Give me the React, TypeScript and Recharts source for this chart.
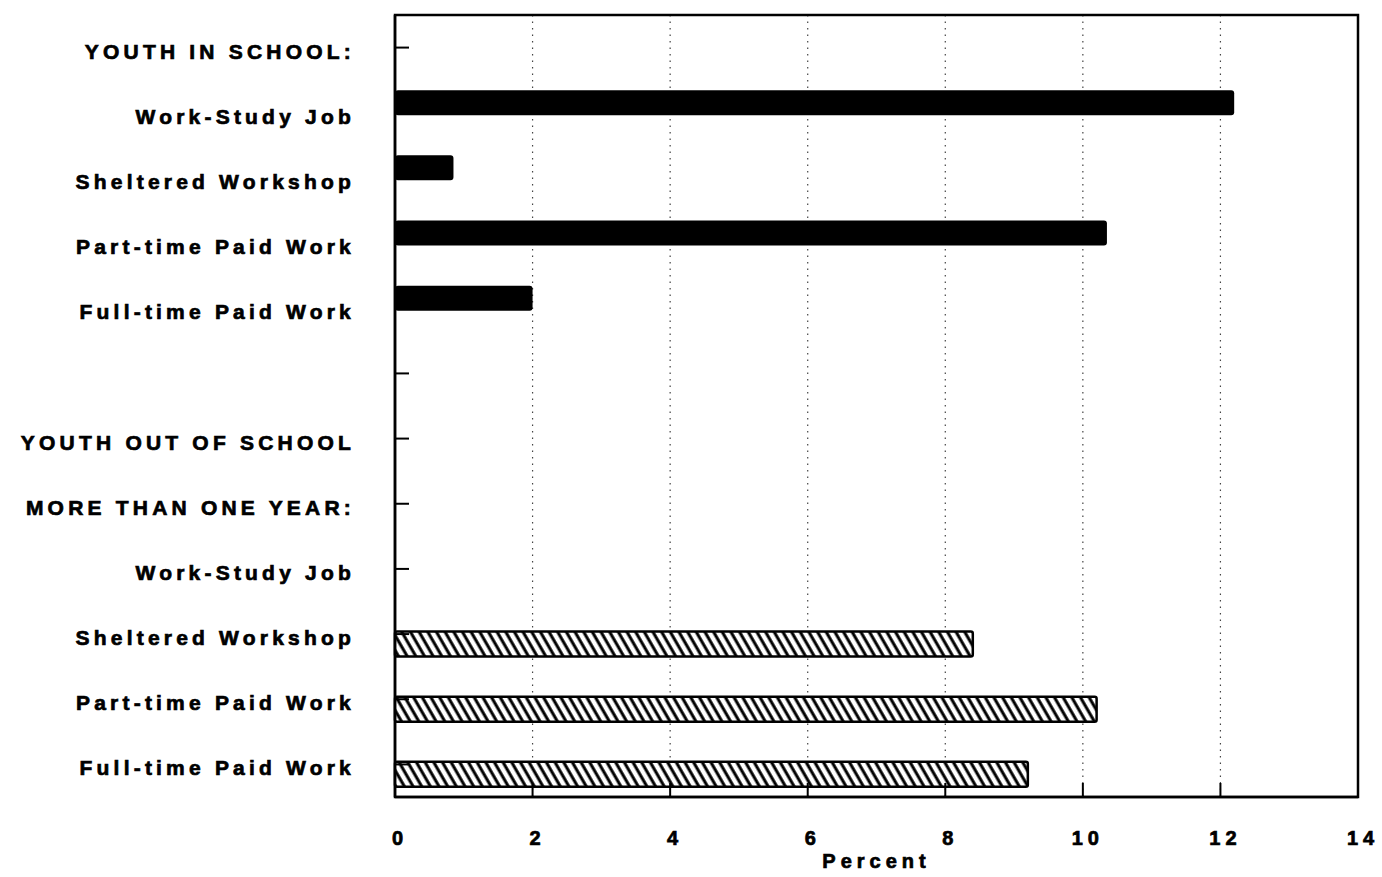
import React from "react";
import {
  BarChart,
  Bar,
  XAxis,
  YAxis,
  CartesianGrid,
  ReferenceArea,
} from "recharts";

const categories = [
  "YOUTH IN SCHOOL:",
  "Work-Study Job",
  "Sheltered Workshop",
  "Part-time Paid Work",
  "Full-time Paid Work",
  "",
  "YOUTH OUT OF SCHOOL",
  "MORE THAN ONE YEAR:",
  "Work-Study Job",
  "Sheltered Workshop",
  "Part-time Paid Work",
  "Full-time Paid Work",
];

const inSchool: (number | null)[] = [null, 12.2, 0.85, 10.35, 2.0, null, null, null, null, null, null, null];
const outOfSchool: (number | null)[] = [null, null, null, null, null, null, null, null, null, 8.4, 10.2, 9.2];

const xTicks = [0, 2, 4, 6, 8, 10, 12, 14];

const data = categories.map((label, i) => ({
  label,
  inSchool: inSchool[i],
  outOfSchool: outOfSchool[i],
}));

const FONT = "'Liberation Sans', Arial, Helvetica, sans-serif";

const YTick = (props: any) => {
  const { x, y, payload } = props;
  return (
    <g>
      <line x1={x} y1={y} x2={x + 14} y2={y} stroke="#000" strokeWidth={2} />
      <text
        x={x - 40}
        y={y + 11}
        textAnchor="end"
        fontFamily={FONT}
        fontWeight="bold"
        fontSize={21}
        letterSpacing={4.2}
        stroke="#000"
        strokeWidth={0.7}
        fill="#000"
      >
        {payload.value}
      </text>
    </g>
  );
};

const XTick = (props: any) => {
  const { x, y, payload } = props;
  const inner = payload.value !== 0 && payload.value !== 14;
  return (
    <g>
      {inner && <line x1={x} y1={y} x2={x} y2={y - 14} stroke="#000" strokeWidth={2} />}
      <text
        x={x + 5}
        y={y + 48}
        textAnchor="middle"
        fontFamily={FONT}
        fontWeight="bold"
        fontSize={20}
        letterSpacing={5}
        stroke="#000"
        strokeWidth={0.7}
        fill="#000"
      >
        {payload.value}
      </text>
    </g>
  );
};

export default function App() {
  return (
    <div style={{ position: "absolute", left: 0, top: 0, width: 1382, height: 877, background: "#fff" }}>
      <BarChart
        width={1382}
        height={877}
        data={data}
        layout="vertical"
        margin={{ top: 15, right: 24, bottom: 50, left: 0 }}
        barSize={25}
        barGap={-5}
        barCategoryGap={0}
      >
        <defs>
          <pattern
            id="hatch"
            patternUnits="userSpaceOnUse"
            width={7.5}
            height={7.5}
            patternTransform="rotate(-30)"
          >
            <rect x={0} y={0} width={7.5} height={7.5} fill="#fff" />
            <line x1={2} y1={0} x2={2} y2={7.5} stroke="#000" strokeWidth={3} />
          </pattern>
        </defs>
        <CartesianGrid
          horizontal={false}
          vertical={true}
          stroke="#444"
          strokeDasharray="1.5 5"
          strokeWidth={1.2}
        />
        <XAxis
          type="number"
          domain={[0, 14]}
          ticks={xTicks}
          interval={0}
          height={30}
          tickSize={0}
          tickMargin={0}
          tick={<XTick />}
          axisLine={{ stroke: "#000", strokeWidth: 2.5 }}
          tickLine={false}
          label={{
            value: "Percent",
            position: "bottom",
            offset: 27,
            style: {
              fontFamily: FONT,
              fontWeight: "bold",
              fontSize: 20,
              letterSpacing: 5,
              fill: "#000",
              stroke: "#000",
              strokeWidth: 0.7,
            },
          }}
        />
        <YAxis
          type="category"
          dataKey="label"
          width={395}
          interval={0}
          tickSize={0}
          tickMargin={0}
          tick={<YTick />}
          tickLine={false}
          axisLine={{ stroke: "#000", strokeWidth: 2.5 }}
        />
        <Bar
          dataKey="inSchool"
          fill="#000"
          radius={3}
          isAnimationActive={false}
        />
        <Bar
          dataKey="outOfSchool"
          fill="url(#hatch)"
          stroke="#000"
          strokeWidth={2.5}
          radius={2}
          isAnimationActive={false}
        />
        <ReferenceArea
          x1={0}
          x2={14}
          fill="none"
          fillOpacity={0}
          stroke="#000"
          strokeWidth={2.5}
          ifOverflow="visible"
        />
      </BarChart>
    </div>
  );
}
